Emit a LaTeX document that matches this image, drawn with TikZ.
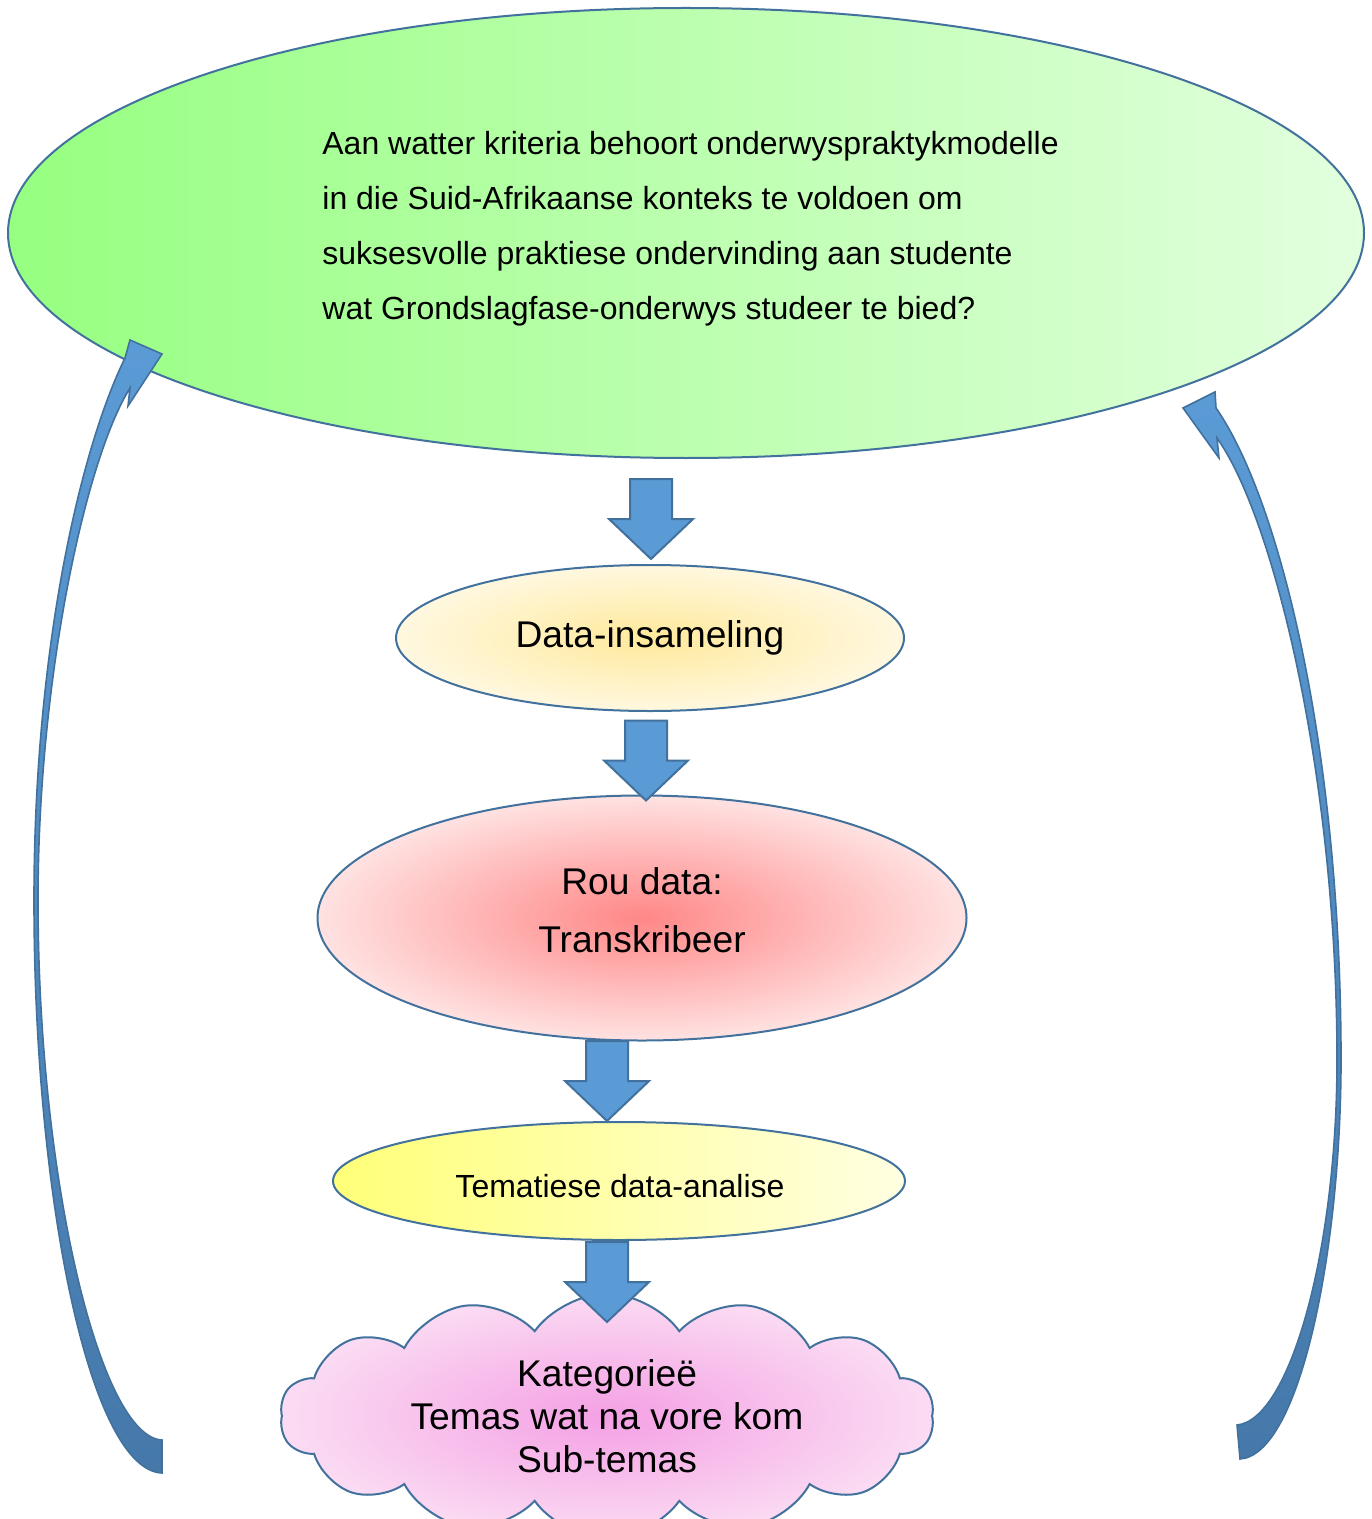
\documentclass[tikz,border=0pt]{standalone}
\usepackage{fontspec}
\setmainfont{Liberation Sans}
\usetikzlibrary{shapes.geometric,shapes.symbols,calc}
\definecolor{bord}{RGB}{65,113,156}
\definecolor{arrA}{RGB}{91,155,213}
\definecolor{arrB}{RGB}{70,120,170}
\definecolor{gL}{RGB}{150,255,128}
\definecolor{gM}{RGB}{195,255,185}
\definecolor{gR}{RGB}{226,255,222}
\definecolor{yC}{RGB}{255,233,155}
\definecolor{yO}{RGB}{255,248,224}
\definecolor{rC}{RGB}{255,135,135}
\definecolor{rO}{RGB}{255,226,226}
\definecolor{lyL}{RGB}{255,255,120}
\definecolor{lyR}{RGB}{255,255,226}
\definecolor{pC}{RGB}{244,160,228}
\definecolor{pO}{RGB}{251,220,243}
\begin{document}
\begin{tikzpicture}[x=0.5pt,y=-0.5pt,
  shapeline/.style={draw=bord, line width=1pt, inner sep=0pt},
  blockarr/.style={draw=bord, line width=1pt, fill=arrA, line join=miter},
  curvarr/.style={draw=bord, line width=0.8pt, top color=arrA, bottom color=arrB, line join=miter},
  bigtxt/.style={font=\fontsize{18.6}{29}\selectfont},
  downarr/.pic={\path[blockarr] (-21,-80) -- (21,-80) -- (21,-40) -- (42,-40) -- (0,0) -- (-42,-40) -- (-21,-40) -- cycle;}
]
\useasboundingbox (0,0) rectangle (1371,1519);

% top question ellipse
\node[ellipse, shapeline, left color=gL, middle color=gM, right color=gR,
      minimum width=678pt, minimum height=225pt] (q) at (686,233) {};
\node[anchor=north west, align=left, inner sep=0pt,
      font=\fontsize{16}{27.5}\selectfont] (qt) at (322,131)
  {Aan watter kriteria behoort onderwyspraktykmodelle\\
   in die Suid-Afrikaanse konteks te voldoen om\\
   suksesvolle praktiese ondervinding aan studente\\
   wat Grondslagfase-onderwys studeer te bied?};

% data collection
\node[ellipse, shapeline, inner color=yC, outer color=yO,
      minimum width=254pt, minimum height=73pt, bigtxt] (d) at (650,638) {Data-insameling};

% raw data
\node[ellipse, shapeline, inner color=rC, outer color=rO,
      minimum width=324.5pt, minimum height=122.5pt] (r) at (642,918) {};
\node[align=center, bigtxt, inner sep=0pt] (rt) at ($(r.center)+(0,-8)$) {Rou data:\\Transkribeer};

% thematic analysis
\node[ellipse, shapeline, left color=lyL, right color=lyR,
      minimum width=286pt, minimum height=59pt] (t) at (619,1181) {};
\node[font=\fontsize{16}{20}\selectfont, inner sep=0pt] (tt) at ($(t.center)+(1,5)$) {Tematiese data-analise};

% cloud
\node[cloud, cloud puffs=14, cloud puff arc=110, aspect=3, shapeline,
      inner color=pC, outer color=pO, minimum width=327pt, minimum height=104pt,
      align=center, font=\fontsize{18.6}{21.5}\selectfont] (c) at (607,1416)
  {Kategorieë\\Temas wat na vore kom\\Sub-temas};

% block arrows between stages
\pic at ($(d.north)+(1,-5)$) {downarr};
\pic at ($(r.north)+(4,6)$) {downarr};
\pic at ($(t.north)+(-12,0)$) {downarr};
\pic at ($(c.center)+(0,-94)$) {downarr};

% curved feedback arrows
\coordinate (lbase) at (162,1473);
\coordinate (rbase) at (1240,1459);
\path[curvarr] (lbase) .. controls (90,1470) and (34,1200) .. (34,900)
  .. controls (34,650) and (80,450) .. (125,358)
  -- (130,340) -- (162,354) -- (128,406) -- (130,388)
  .. controls (85,460) and (38,680) .. (38,900)
  .. controls (38,1180) and (100,1437) .. (162,1440) -- cycle;
\path[curvarr] (rbase) .. controls (1300,1455) and (1341,1250) .. (1341,1060)
  .. controls (1341,750) and (1280,500) .. (1216,408)
  -- (1215,392) -- (1183,408) -- (1219,458) -- (1217,438)
  .. controls (1275,520) and (1337,780) .. (1337,1060)
  .. controls (1337,1250) and (1290,1420) .. (1237,1425) -- cycle;
\end{tikzpicture}
\end{document}
